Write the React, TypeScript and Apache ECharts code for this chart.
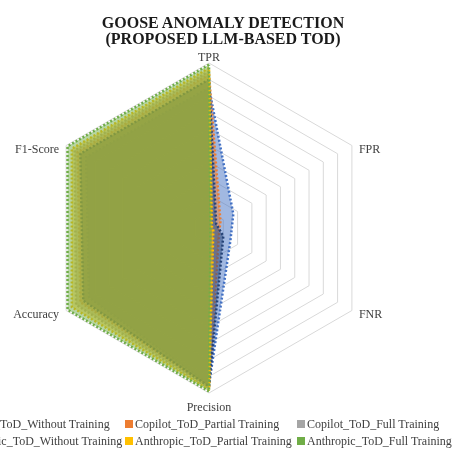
import React, { useEffect, useRef } from "react";
import * as echarts from "echarts";

const metrics = ["TPR", "FPR", "FNR", "Precision", "Accuracy", "F1-Score"];
const seriesNames = [
  "Copilot_ToD_Without Training",
  "Copilot_ToD_Partial Training",
  "Copilot_ToD_Full Training",
  "Anthropic_ToD_Without Training",
  "Anthropic_ToD_Partial Training",
  "Anthropic_ToD_Full Training",
];
// values in metric order: TPR, FPR, FNR, Precision, Accuracy, F1-Score
const copilotWithout = [0.85, 0.17, 0.15, 0.95, 0.84, 0.86];
const copilotPartial = [0.93, 0.08, 0.07, 0.96, 0.9, 0.92];
const copilotFull = [0.95, 0.04, 0.05, 0.97, 0.93, 0.94];
const anthropicWithout = [0.9, 0.05, 0.1, 0.96, 0.88, 0.9];
const anthropicPartial = [0.97, 0.02, 0.03, 0.98, 0.96, 0.96];
const anthropicFull = [0.99, 0.01, 0.01, 0.99, 0.99, 0.99];
const allValues = [copilotWithout, copilotPartial, copilotFull, anthropicWithout, anthropicPartial, anthropicFull];
const colors = ["#4472C4", "#ED7D31", "#A5A5A5", "#264478", "#FFC000", "#70AD47"];

// ECharts lays indicators counter-clockwise; reorder so they appear clockwise
const order = [0, 5, 4, 3, 2, 1];

export default function App() {
  const ref = useRef<HTMLDivElement>(null);
  useEffect(() => {
    if (!ref.current) return;
    const chart = echarts.init(ref.current, null, { renderer: "svg" });
    const font = "'Liberation Serif', 'Times New Roman', serif";
    const legendPos = [
      [-52, 418],
      [125, 418],
      [297, 418],
      [-52, 435],
      [125, 435],
      [297, 435],
    ];
    const nameStyle = { fontFamily: font, fontSize: 12, color: "#404040" };
    chart.setOption({
      animation: false,
      title: {
        text: "GOOSE ANOMALY DETECTION\n(PROPOSED LLM-BASED TOD)",
        left: 218,
        textAlign: "center",
        top: 9,
        textStyle: { fontFamily: font, fontSize: 16, fontWeight: "bold", color: "#1a1a1a", lineHeight: 16 },
      },
      legend: seriesNames.map((n, i) => ({
        data: [n],
        left: legendPos[i][0],
        top: legendPos[i][1],
        padding: 0,
        itemWidth: 8,
        itemHeight: 8,
        itemGap: 2,
        icon: "rect",
        textStyle: { fontFamily: font, fontSize: 12, color: "#404040", padding: [0, 0, 0, -3] },
        selectedMode: false,
      })),
      radar: {
        center: [209, 228],
        radius: 165,
        startAngle: 90,
        splitNumber: 10,
        shape: "polygon",
        indicator: order.map((k) => ({ name: metrics[k], min: 0, max: 1 })),
        axisName: {
          ...nameStyle,
          padding: [0, 7, 0, 7],
          formatter: (name: string) =>
            name === "TPR" ? `{t|${name}}` : name === "Precision" ? `{p|${name}}` : `{s|${name}}`,
          rich: {
            t: { ...nameStyle },
            p: { ...nameStyle, padding: [8, 0, 0, 0] },
            s: { ...nameStyle, padding: [6, 0, 0, 0] },
          },
        },
        nameGap: 0,
        splitLine: { lineStyle: { color: "#d9d9d9", width: 1 } },
        splitArea: { show: false },
        axisLine: { show: false },
        axisTick: { show: false },
        axisLabel: { show: false },
      },
      series: [
        {
          type: "radar",
          symbol: "none",
          data: seriesNames.map((n, i) => ({
            name: n,
            value: order.map((k) => allValues[i][k]),
            lineStyle: { color: colors[i], width: 2.5, type: [2, 2], cap: "butt" },
            areaStyle: { color: colors[i], opacity: 0.5 },
            itemStyle: { color: colors[i] },
          })),
        },
      ],
    });
    return () => chart.dispose();
  }, []);
  return <div ref={ref} style={{ position: "fixed", left: 0, top: 0, width: 452, height: 452 }} />;
}
